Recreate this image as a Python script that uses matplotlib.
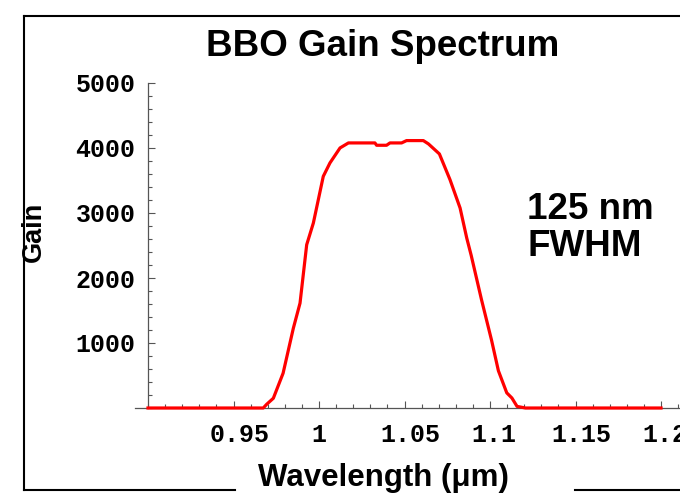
import matplotlib
matplotlib.use('Agg')
import matplotlib.pyplot as plt
import matplotlib.transforms as mtransforms
from matplotlib.lines import Line2D
from matplotlib.ticker import MultipleLocator

# gain spectrum
wavelength = [0.90, 0.9674, 0.9694, 0.9733, 0.979, 0.985, 0.9889, 0.9928, 0.9967,
              1.0025, 1.0064, 1.0123, 1.0172, 1.0327, 1.0337, 1.0395, 1.0415,
              1.0483, 1.0512, 1.061, 1.064, 1.0704, 1.0766, 1.0825, 1.0864,
              1.089, 1.095, 1.1009, 1.1049, 1.1098, 1.1128, 1.1158, 1.1207, 1.20]
gain = [0, 0, 57, 150, 535, 1228, 1613, 2512, 2846,
        3564, 3770, 4001, 4078, 4078, 4042, 4042, 4078,
        4078, 4114, 4114, 4063, 3909, 3513, 3077, 2614,
        2348, 1669, 1043, 573, 233, 154, 25, 0, 0]

x_ticks = [0.95, 1.0, 1.05, 1.1, 1.15, 1.2]
x_labels = ['0.95', '1', '1.05', '1.1', '1.15', '1.2']
y_ticks = [1000, 2000, 3000, 4000, 5000]
y_labels = ['1000', '2000', '3000', '4000', '5000']

sans = 'Liberation Sans'
mono = 'Liberation Mono'

fig = plt.figure(figsize=(6.8, 4.96), dpi=100)
ax = fig.add_axes([135 / 680, 88 / 496, 545 / 680, 325 / 496])

ax.plot(wavelength, gain, color='#ff0000', lw=2.3, clip_on=False, zorder=5)

ax.set_xlim(0.8924, 1.2111)
ax.set_ylim(0, 5000)

for s in ['top', 'right']:
    ax.spines[s].set_visible(False)
ax.spines['left'].set_position(('data', 0.9))
ax.spines['left'].set_bounds(0, 5000)
ax.spines['bottom'].set_position(('data', 0))
for s in ['left', 'bottom']:
    ax.spines[s].set_color('#555555')
    ax.spines[s].set_linewidth(0.9)

ax.set_xticks(x_ticks)
ax.set_xticklabels(x_labels)
ax.set_yticks(y_ticks)
ax.set_yticklabels(y_labels)
ax.xaxis.set_minor_locator(MultipleLocator(0.01))
ax.yaxis.set_minor_locator(MultipleLocator(200))
ax.tick_params(which='both', direction='in', colors='#555555', width=0.8)
ax.tick_params(which='major', length=5)
ax.tick_params(which='minor', length=3)
ax.tick_params(axis='x', which='major', pad=11)
ax.tick_params(axis='y', which='major', pad=9)
for lab in ax.get_xticklabels() + ax.get_yticklabels():
    lab.set_family(mono)
    lab.set_weight('bold')
    lab.set_fontsize(18)
    lab.set_color('black')
# the decimal labels sit a little right of their ticks in the original
for lab in ax.get_xticklabels():
    dx = 2 * (len(lab.get_text()) - 1) / 100
    lab.set_transform(lab.get_transform() +
                      mtransforms.ScaledTranslation(dx, 0, fig.dpi_scale_trans))

fig.text(383 / 680, 1 - 46 / 496, 'BBO Gain Spectrum', family=sans, weight='bold',
         fontsize=26.5, ha='center', va='center')
fig.text(383 / 680, 1 - 478 / 496, 'Wavelength (\u03bcm)', family=sans, weight='bold',
         fontsize=22.5, ha='center', va='center')
fig.text(34 / 680, 1 - 232 / 496, 'Gain', family=sans, weight='bold',
         fontsize=19.5, ha='center', va='center', rotation=90)
fig.text(527 / 680, 1 - 228 / 496, '125 nm\nFWHM', family=sans, weight='bold',
         fontsize=26.5, ha='left', va='center', linespacing=1.1)

# outer frame, bottom edge broken by the x label
fx0, fy0, fy1 = 24 / 680, 1 - 490 / 496, 1 - 16 / 496
frame = [([fx0, fx0], [fy0, fy1]), ([fx0, 1.0], [fy1, fy1]),
         ([fx0, 235 / 680], [fy0, fy0]), ([575 / 680, 1.0], [fy0, fy0])]
for xs, ys in frame:
    fig.add_artist(Line2D(xs, ys, transform=fig.transFigure, color='black', lw=1.5))

fig.savefig('out.png', dpi=100)
